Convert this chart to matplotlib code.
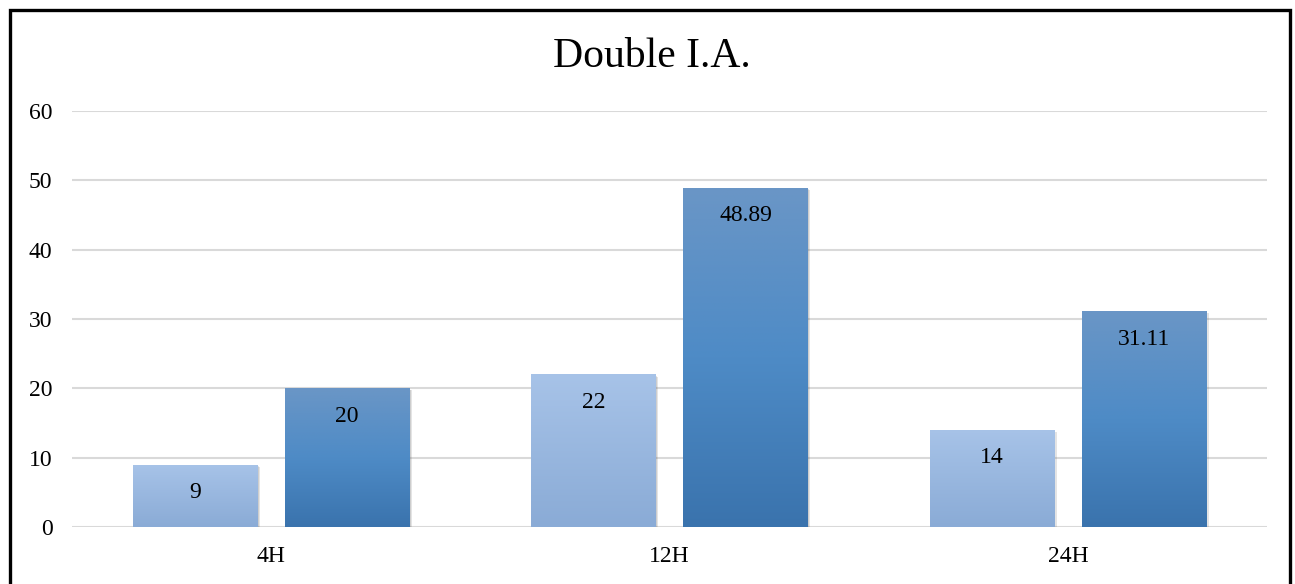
import matplotlib
matplotlib.use("Agg")
import matplotlib.pyplot as plt
import matplotlib.patheffects as pe
from matplotlib.colors import LinearSegmentedColormap
from matplotlib.patches import Rectangle
import numpy as np

categorias = ["4H", "12H", "24H"]
serie_clara = [9, 22, 14]
serie_oscura = [20, 48.89, 31.11]
etiquetas_clara = ["9", "22", "14"]
etiquetas_oscura = ["20", "48.89", "31.11"]

plt.rcParams["font.family"] = ["Liberation Serif", "DejaVu Serif"]

fig = plt.figure(figsize=(12.95, 5.84), dpi=100)
ax = fig.add_axes([72 / 1295, 57 / 584, 1195 / 1295, 416 / 584])

cmap_clara = LinearSegmentedColormap.from_list("clara", ["#8aabd6", "#a7c3e8"])
cmap_oscura = LinearSegmentedColormap.from_list("oscura", ["#3a73ad", "#4e8bc6", "#6a96c6"])
degradado = np.linspace(0, 1, 256).reshape(-1, 1)

ancho = 0.312
desp = 0.191
x = np.arange(len(categorias))

def barras_degradado(posiciones, valores, cmap):
    barras = ax.bar(posiciones, valores, width=ancho, color="none", zorder=2)
    for b in barras:
        x0, y0 = b.get_x(), b.get_y()
        w, h = b.get_width(), b.get_height()
        # sombra suave detras de cada barra
        sombra = Rectangle((x0, y0), w, h, facecolor="white", edgecolor="none", zorder=2,
                           path_effects=[pe.SimplePatchShadow(offset=(2, -1.5), alpha=0.15),
                                         pe.SimplePatchShadow(offset=(1, -1), alpha=0.15),
                                         pe.Normal()])
        ax.add_patch(sombra)
        img = ax.imshow(degradado, cmap=cmap, origin="lower", aspect="auto",
                        extent=[x0, x0 + w, y0, y0 + h], zorder=3)
        img.set_clip_path(b)
    return barras

barras_degradado(x - desp, serie_clara, cmap_clara)
barras_degradado(x + desp, serie_oscura, cmap_oscura)

for xi, v, t in zip(x - desp, serie_clara, etiquetas_clara):
    ax.text(xi, v - 4.0, t, ha="center", va="center", fontsize=17, color="black", zorder=4)
for xi, v, t in zip(x + desp, serie_oscura, etiquetas_oscura):
    ax.text(xi, v - 4.0, t, ha="center", va="center", fontsize=17, color="black", zorder=4)

ax.set_xlim(-0.5, 2.5)
ax.set_ylim(0, 60)
ax.set_yticks(range(0, 61, 10))
ax.set_xticks(x)
ax.set_xticklabels(categorias)
ax.tick_params(axis="both", length=0, labelsize=17, colors="black")
ax.tick_params(axis="y", pad=14)
ax.tick_params(axis="x", pad=14)
ax.yaxis.grid(True, color="#d9d9d9", linewidth=1.5, zorder=0)
ax.set_axisbelow(True)
for s in ax.spines.values():
    s.set_visible(False)

fig.text(652 / 1295, 1 - 57 / 584, "Double I.A.", ha="center", va="center", fontsize=30)

# marco exterior
fig.patches.append(Rectangle((10 / 1295, -0.1), 1280 / 1295, 1.1 - 10.5 / 584,
                             transform=fig.transFigure, fill=False, edgecolor="black",
                             linewidth=2.4, zorder=10))

fig.savefig("out.png", dpi=100)
